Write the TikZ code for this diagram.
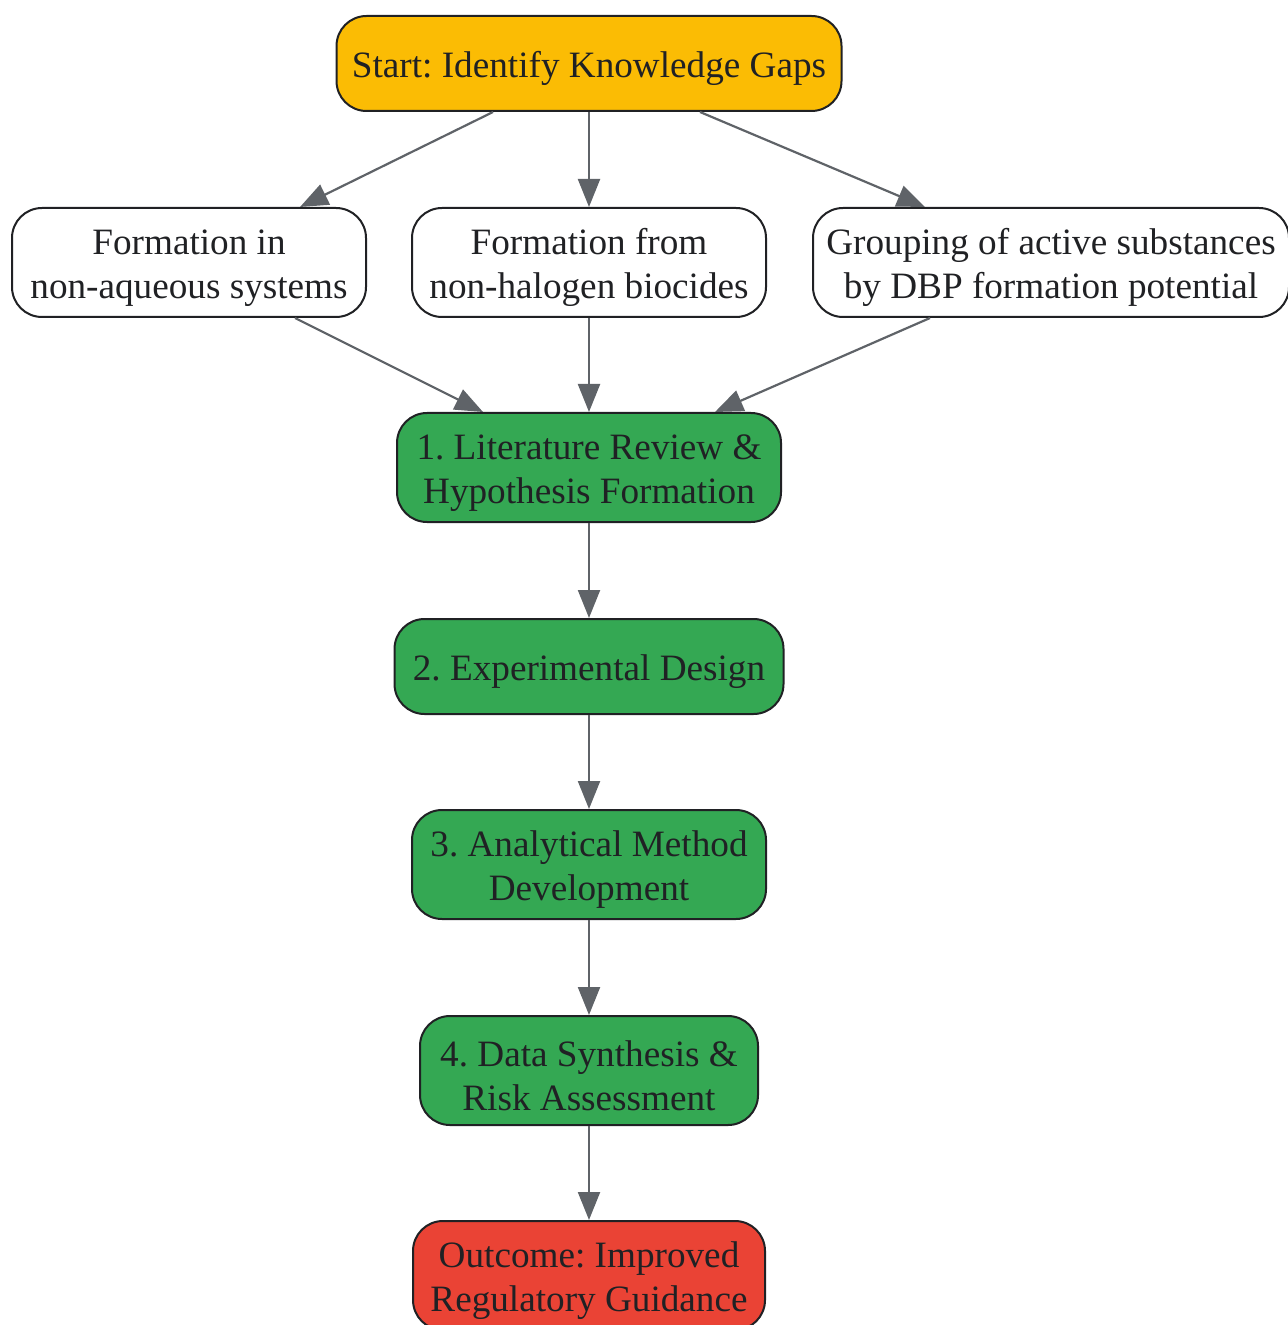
\documentclass[tikz,border=0pt]{standalone}
\usepackage{fontspec}
\setmainfont{Liberation Serif}
\usetikzlibrary{arrows.meta}
\definecolor{startyellow}{HTML}{FBBC04}
\definecolor{stepgreen}{HTML}{34A853}
\definecolor{outcomered}{HTML}{EA4335}
\definecolor{edgegray}{HTML}{5F6368}
\definecolor{textdark}{HTML}{202124}
\newcommand{\topgap}{\rule{0pt}{17.8pt}}
\frenchspacing
\begin{document}
\begin{tikzpicture}[x=0.5pt,y=-0.5pt,
  every node/.style={font=\fontsize{18.6pt}{22pt}\selectfont, text=textdark},
  box/.style={draw=textdark, line width=1pt, rounded corners=15pt, align=center,
    inner sep=0pt, minimum height=54.5pt},
  startbox/.style={box, fill=startyellow, minimum height=47.5pt},
  gapbox/.style={box, fill=white},
  stepbox/.style={box, fill=stepgreen},
  endbox/.style={box, fill=outcomered},
  arr/.style={-{Triangle[length=14pt,width=11pt]}, draw=edgegray, line width=1.1pt},
]
\useasboundingbox (0,0) rectangle (1287,1325);

\node[startbox, minimum width=252.5pt] at (589,63.5)  (start) {\topgap Start: Identify Knowledge Gaps};

\node[gapbox, minimum width=177pt] at (189,262.5)  (nonaq)  {\topgap Formation in\\non-aqueous systems};
\node[gapbox, minimum width=177pt] at (589,262.5)  (nonhal) {\topgap Formation from\\non-halogen biocides};
\node[gapbox, minimum width=238pt] at (1051,262.5) (group)  {\topgap Grouping of active substances\\by DBP formation potential};

\node[stepbox, minimum width=192pt] at (589,467.5)  (litrev)  {\topgap 1. Literature Review \&\\Hypothesis Formation};
\node[stepbox, minimum width=194.5pt, minimum height=47.5pt] at (589,666.5) (expdes) {\topgap 2. Experimental Design};
\node[stepbox, minimum width=177pt] at (589,864.5)  (method)  {\topgap 3. Analytical Method\\Development};
\node[stepbox, minimum width=169pt] at (589,1070.5) (synth)   {\topgap 4. Data Synthesis \&\\Risk Assessment};

\node[endbox, minimum width=176pt] at (589,1275.5) (outcome) {\topgap Outcome: Improved\\Regulatory Guidance};

\draw[arr] (start.south -| 493,0) -- (nonaq.north -| 300,0);
\draw[arr] (start) -- (nonhal);
\draw[arr] (start.south -| 700,0) -- (group.north -| 925,0);
\draw[arr] (nonaq.south -| 295,0) -- (litrev.north -| 483,0);
\draw[arr] (nonhal) -- (litrev);
\draw[arr] (group.south -| 930,0) -- (litrev.north -| 715,0);
\draw[arr] (litrev) -- (expdes);
\draw[arr] (expdes) -- (method);
\draw[arr] (method) -- (synth);
\draw[arr] (synth) -- (outcome);
\end{tikzpicture}
\end{document}
